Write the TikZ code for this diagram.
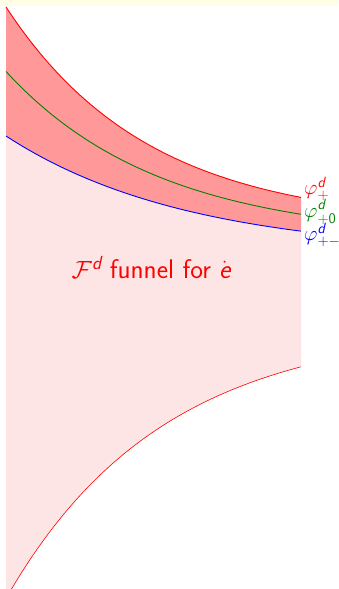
\documentclass[tikz,border=0pt]{standalone}
\usepackage{amsmath}
\begin{document}
\begin{tikzpicture}[x=1pt,y=-1pt,
  declare function={
    fr(\x)=7+218*(1-exp(-0.007*(\x-6)));
    fb(\x)=136+118.6*(1-exp(-0.0055*(\x-6)));
    fg(\x)=(fr(\x)+fb(\x))/2;
    fl(\x)=598.4-273*(1-exp(-0.0064*(\x-6)));
  },
  curve/.style={line width=0.9pt},
  lbl/.style={anchor=west,inner sep=0pt,font=\fontsize{21}{23}\selectfont}
]
\definecolor{topband}{RGB}{255,253,228}
\definecolor{lightpink}{RGB}{253,229,229}
\definecolor{darkpink}{RGB}{255,153,153}
\definecolor{dgreen}{RGB}{0,128,0}
\useasboundingbox (0,0) rectangle (338,589);
\clip (0,0) rectangle (338,589);
\fill[topband] (0,0) rectangle (338,6);
% light funnel region
\fill[lightpink] plot[domain=6:301,samples=120] (\x,{fr(\x)}) -- plot[domain=301:6,samples=120] (\x,{fl(\x)}) -- cycle;
% dark band
\fill[darkpink] plot[domain=6:301,samples=120] (\x,{fr(\x)}) -- plot[domain=301:6,samples=120] (\x,{fb(\x)}) -- cycle;
% curves
\draw[curve,red] plot[domain=6:301,samples=120] (\x,{fr(\x)});
\draw[curve,dgreen] plot[domain=6:301,samples=120] (\x,{fg(\x)});
\draw[curve,blue] plot[domain=6:301,samples=120] (\x,{fb(\x)});
\draw[line width=0.6pt,red] plot[domain=6:301,samples=120] (\x,{fl(\x)});
% labels
\node[lbl,text=red] (lp) at (304,189) {$\varphi^{\textsf{\itshape d}}_{\textsf{+}}$};
\node[lbl,text=dgreen] (lz) at (304,212) {$\varphi^{\textsf{\itshape d}}_{\textsf{+0}}$};
\node[lbl,text=blue] (lm) at (304,235) {$\varphi^{\textsf{\itshape d}}_{\textsf{+}-}$};
\node[text=red,font=\fontsize{27}{31}\selectfont] (title) at (151,268) {$\mathcal{F}^{\textsf{\itshape d}}$ \textsf{funnel for} $\dot{\textsf{\itshape e}}$};
\end{tikzpicture}
\end{document}
